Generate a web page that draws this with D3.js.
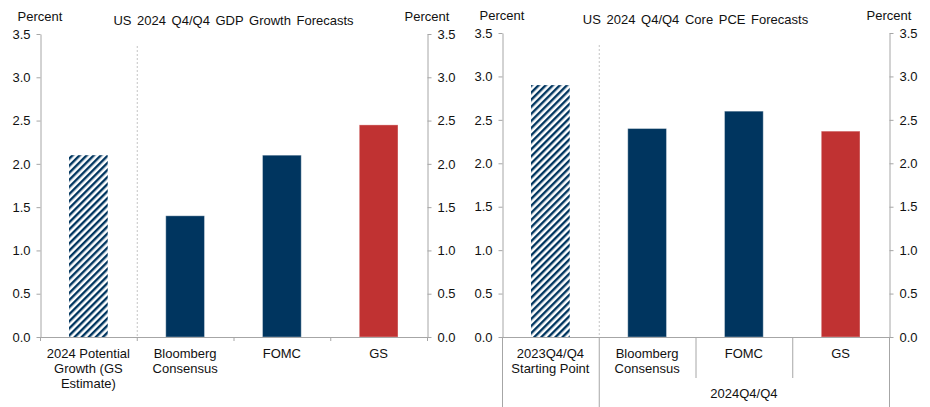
<!DOCTYPE html>
<html>
<head>
<meta charset="utf-8">
<script src="https://cdn.jsdelivr.net/npm/d3@7"></script>
<style>
  body { margin: 0; background: #fff; }
  svg { display: block; font-family: "Liberation Sans", Arial, sans-serif; }
  .axis text { font-size: 13px; fill: #111; }
  .axis path, .axis line { stroke: #a6a6a6; }
</style>
</head>
<body>
<div id="chart"></div>
<script>
var svgWidth = 930;
var svgHeight = 407;

// Left panel: GDP growth
var gdpCategories = ["potential", "bloomberg", "fomc", "gs"];
var gdpLabels = [["2024 Potential", "Growth (GS", "Estimate)"], ["Bloomberg", "Consensus"], ["FOMC"], ["GS"]];
var gdpValues = [2.1, 1.4, 2.1, 2.45];

// Right panel: core PCE
var pceCategories = ["start", "bloomberg", "fomc", "gs"];
var pceLabels = [["2023Q4/Q4", "Starting Point"], ["Bloomberg", "Consensus"], ["FOMC"], ["GS"]];
var pceValues = [2.9, 2.4, 2.6, 2.37];

var barKinds = ["hatch", "navy", "navy", "red"];
var yTicks = [0, 0.5, 1.0, 1.5, 2.0, 2.5, 3.0, 3.5];

var navy = "#00355f";
var red = "#c03232";

var svg = d3.select("#chart")
  .append("svg")
  .attr("width", svgWidth)
  .attr("height", svgHeight);

// hatch pattern for the reference bars
var defs = svg.append("defs");
var pattern = defs.append("pattern")
  .attr("id", "hatch")
  .attr("patternUnits", "userSpaceOnUse")
  .attr("width", 5)
  .attr("height", 5)
  .attr("patternTransform", "rotate(45)");
pattern.append("rect")
  .attr("width", 5).attr("height", 5).attr("fill", "#fff");
pattern.append("rect")
  .attr("width", 2.4).attr("height", 5).attr("fill", navy);

function fillFor(kind) {
  if (kind === "hatch") return "url(#hatch)";
  if (kind === "red") return red;
  return navy;
}

function drawPanel(opts) {
  var g = svg.append("g");

  var x = d3.scaleBand()
    .domain(opts.categories)
    .range([opts.left, opts.right])
    .padding(0);

  var y = d3.scaleLinear()
    .domain([0, 3.5])
    .range([opts.bottom, opts.top]);

  var bw = x.bandwidth();

  // dashed separator after first category
  g.append("line")
    .attr("x1", x(opts.categories[1]) + 0.5)
    .attr("x2", x(opts.categories[1]) + 0.5)
    .attr("y1", opts.top + 12)
    .attr("y2", opts.bottom)
    .attr("stroke", "#c4c4c4")
    .attr("stroke-dasharray", "2,2");

  // bars
  g.selectAll(".bar")
    .data(opts.values)
    .enter()
    .append("rect")
    .attr("x", (d, i) => x(opts.categories[i]) + bw * 0.3)
    .attr("width", bw * 0.4)
    .attr("y", d => y(d))
    .attr("height", d => y(0) - y(d))
    .attr("fill", (d, i) => fillFor(barKinds[i]))
    .attr("stroke", (d, i) => barKinds[i] === "hatch" ? "none" : "rgba(255,255,255,0.35)")
    .attr("stroke-width", 1);

  // y axes
  var leftAxis = d3.axisLeft(y)
    .tickValues(yTicks)
    .tickFormat(d3.format(".1f"))
    .tickSize(4)
    .tickSizeOuter(0)
    .tickPadding(6);
  var rightAxis = d3.axisRight(y)
    .tickValues(yTicks)
    .tickFormat(d3.format(".1f"))
    .tickSize(4)
    .tickSizeOuter(0)
    .tickPadding(6);

  g.append("g")
    .attr("class", "axis")
    .attr("transform", `translate(${opts.left + 0.5}, 0)`)
    .call(leftAxis);
  g.append("g")
    .attr("class", "axis")
    .attr("transform", `translate(${opts.right + 0.5}, 0)`)
    .call(rightAxis);

  // x baseline
  g.append("line")
    .attr("x1", opts.left)
    .attr("x2", opts.right + 1)
    .attr("y1", y(0) + 0.5)
    .attr("y2", y(0) + 0.5)
    .attr("stroke", "#a6a6a6");

  // category boundaries
  var bounds = opts.categories.map(c => x(c)).concat([opts.right]);
  g.selectAll(".bound")
    .data(bounds)
    .enter()
    .append("line")
    .attr("x1", d => d + 0.5)
    .attr("x2", d => d + 0.5)
    .attr("y1", y(0))
    .attr("y2", (d, i) => y(0) + opts.boundLen(i))
    .attr("stroke", "#a6a6a6");

  // category labels
  opts.labels.forEach(function(lines, i) {
    var t = g.append("text")
      .attr("text-anchor", "middle")
      .attr("font-size", "13px")
      .attr("fill", "#111")
      .attr("x", x(opts.categories[i]) + bw / 2)
      .attr("y", y(0) + 21);
    lines.forEach(function(line, j) {
      t.append("tspan")
        .attr("x", x(opts.categories[i]) + bw / 2)
        .attr("dy", j === 0 ? 0 : 15)
        .text(line);
    });
  });

  // group label
  if (opts.groupLabel) {
    g.append("text")
      .attr("text-anchor", "middle")
      .attr("font-size", "13px")
      .attr("fill", "#111")
      .attr("x", (x(opts.categories[1]) + opts.right) / 2)
      .attr("y", y(0) + 61)
      .text(opts.groupLabel);
  }

  // title and unit labels
  g.append("text")
    .attr("text-anchor", "middle")
    .attr("font-size", "13px")
    .attr("word-spacing", "2px")
    .attr("fill", "#111")
    .attr("x", (opts.left + opts.right) / 2 + 0)
    .attr("y", opts.top - 9)
    .text(opts.title);

  g.append("text")
    .attr("text-anchor", "middle")
    .attr("font-size", "13px")
    .attr("fill", "#111")
    .attr("x", opts.left)
    .attr("y", opts.top - 13)
    .text("Percent");

  g.append("text")
    .attr("text-anchor", "middle")
    .attr("font-size", "13px")
    .attr("fill", "#111")
    .attr("x", opts.right)
    .attr("y", opts.top - 13)
    .text("Percent");
}

drawPanel({
  categories: gdpCategories,
  labels: gdpLabels,
  values: gdpValues,
  left: 40,
  right: 427,
  top: 34,
  bottom: 337,
  title: "US 2024  Q4/Q4  GDP  Growth  Forecasts",
  boundLen: () => 4
});

drawPanel({
  categories: pceCategories,
  labels: pceLabels,
  values: pceValues,
  left: 502,
  right: 889,
  top: 33,
  bottom: 337,
  title: "US 2024  Q4/Q4  Core  PCE  Forecasts",
  groupLabel: "2024Q4/Q4",
  boundLen: i => (i === 2 || i === 3) ? 41 : 70
});
</script>
</body>
</html>
